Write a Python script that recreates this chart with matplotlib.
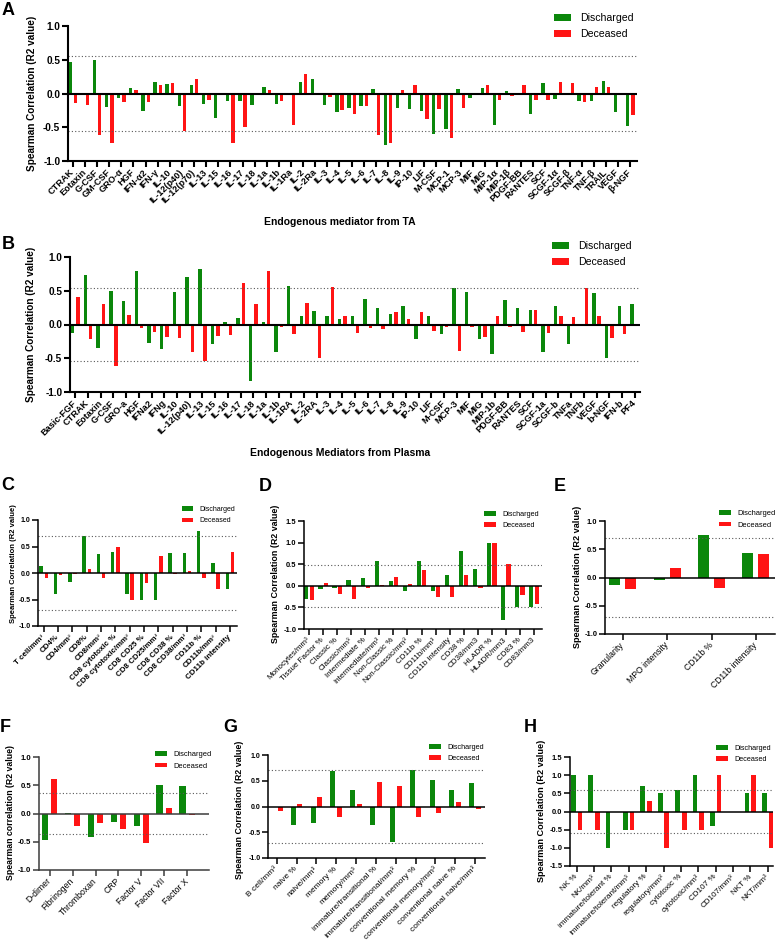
import numpy as np
import matplotlib
matplotlib.use("Agg")
import matplotlib.pyplot as plt

plt.rcParams['font.family'] = ['Liberation Sans', 'DejaVu Sans']

GREEN = '#0b870b'
RED = '#ff1414'
W, H = 777, 944

# ---- A: endogenous mediators from TA
ta_labels = ['CTRAK', 'Eotaxin', 'G-CSF', 'GM-CSF', 'GRO-α', 'HGF', 'IFN-α2', 'IFN-γ', 'IL-10',
             'IL-12(p40)', 'IL-12(p70)', 'IL-13', 'IL-15', 'IL-16', 'IL-17', 'IL-18', 'IL-1a', 'IL-1b',
             'IL-1Ra', 'IL-2', 'IL-2Ra', 'IL-3', 'IL-4', 'IL-5', 'IL-6', 'IL-7', 'IL-8', 'IL-9', 'IP-10',
             'LIF', 'M-CSF', 'MCP-1', 'MCP-3', 'MIF', 'MIG', 'MIP-1α', 'MIP-1β', 'PDGF-BB', 'RANTES',
             'SCF', 'SCGF-1α', 'SCGF-β', 'TNF-α', 'TNF-β', 'TRAIL', 'VEGF', 'β-NGF']
ta_discharged = [0.465, 0.01, 0.50, -0.20, -0.065, 0.075, -0.26, 0.17, 0.14, -0.19, 0.12, -0.15, -0.36,
                 -0.11, -0.11, -0.17, 0.10, -0.16, 0.0, 0.17, 0.21, -0.17, -0.27, -0.21, -0.18, 0.06,
                 -0.77, -0.22, -0.23, -0.26, -0.60, -0.53, 0.065, -0.065, 0.075, -0.47, 0.03, -0.015,
                 -0.31, 0.15, -0.08, -0.02, -0.11, -0.11, 0.19, -0.27, -0.48]
ta_deceased = [-0.14, -0.17, -0.62, -0.73, -0.12, 0.05, -0.13, 0.12, 0.16, -0.56, 0.21, -0.10, -0.01,
               -0.74, -0.50, -0.02, 0.05, -0.11, -0.46, 0.29, 0.0, -0.05, -0.24, -0.30, -0.18, -0.62,
               -0.73, 0.05, 0.13, -0.38, -0.23, -0.66, -0.22, -0.02, 0.13, -0.09, -0.03, 0.12, -0.09,
               -0.09, 0.17, 0.16, -0.13, 0.09, 0.10, -0.02, -0.32]

# ---- B: endogenous mediators from plasma
pl_labels = ['Basic-FGF', 'CTRAK', 'Eotaxin', 'G-CSF', 'GRO-a', 'HGF', 'IFNa2', 'IFNg', 'IL-10',
             'IL-12(p40)', 'IL-13', 'IL-15', 'IL-16', 'IL-17', 'IL-18', 'IL-1a', 'IL-1b', 'IL-1RA',
             'IL-2', 'IL-2RA', 'IL-3', 'IL-4', 'IL-5', 'IL-6', 'IL-7', 'IL-8', 'IL-9', 'IP-10', 'LIF',
             'M-CSF', 'MCP-3', 'MIF', 'MIG', 'MIP-1b', 'PDGF-BB', 'RANTES', 'SCF', 'SCGF-1a',
             'SCGF-b', 'TNFa', 'TNFb', 'VEGF', 'b-NGF', 'IFN-b', 'PF4']
pl_discharged = [-0.12, 0.74, -0.35, 0.50, 0.35, 0.79, -0.28, -0.36, 0.48, 0.71, 0.82, -0.29, 0.035,
                 0.09, -0.83, 0.03, -0.40, 0.565, 0.13, 0.20, 0.13, 0.075, 0.13, 0.38, 0.25, 0.16,
                 0.28, -0.21, 0.13, -0.14, 0.545, 0.48, -0.22, -0.43, 0.37, 0.25, 0.22, -0.40, 0.27,
                 -0.29, 0.01, 0.46, -0.49, 0.28, 0.30]
pl_deceased = [0.41, -0.22, 0.30, -0.62, 0.14, -0.05, -0.11, -0.19, -0.20, -0.40, -0.54, -0.17, -0.15,
               0.62, 0.31, 0.80, -0.04, -0.14, 0.32, -0.49, 0.56, 0.12, -0.12, -0.045, -0.07, 0.18,
               0.075, 0.18, -0.09, -0.04, -0.39, -0.04, -0.18, 0.13, -0.03, -0.11, 0.21, -0.13, 0.13,
               0.11, 0.54, 0.13, -0.20, -0.14, -0.01]

# ---- C: T cells
tc_labels = ['T cell/mm³', 'CD4%', 'CD4/mm³', 'CD8%', 'CD8/mm³', 'CD8 cytotoxic %',
             'CD8 cytotoxic/mm³', 'CD8 CD25 %', 'CD8 CD25/mm³', 'CD8 CD38 %', 'CD8 CD38/mm³',
             'CD11b %', 'CD11b/mm³', 'CD11b intensity']
tc_discharged = [0.14, -0.40, -0.17, 0.70, 0.36, 0.40, -0.40, -0.50, -0.50, 0.37, 0.37, 0.79, 0.19, -0.30]
tc_deceased = [-0.10, -0.03, -0.025, 0.07, -0.10, 0.49, -0.50, -0.18, 0.32, -0.025, 0.04, -0.10, -0.30, 0.40]

# ---- D: monocytes
mo_labels = ['Monocytes/mm³', 'Tissue Factor %', 'Classic %', 'Classic/mm³', 'Intermediate %',
             'Intermediate/mm³', 'Non-Classic %', 'Non-Classic/mm³', 'CD11b %', 'CD11b/mm³',
             'CD11b intensity', 'CD38 %', 'CD38/mm3', 'HLADR %', 'HLADR/mm3', 'CD83 %', 'CD83/mm3']
mo_discharged = [-0.30, -0.08, -0.04, 0.14, 0.19, 0.57, 0.11, -0.13, 0.58, -0.11, 0.25, 0.80, 0.40,
                 1.0, -0.80, -0.50, -0.50]
mo_deceased = [-0.33, 0.07, -0.18, -0.30, -0.06, 0.03, 0.20, 0.04, 0.36, -0.27, -0.25, 0.25, -0.04,
               1.0, 0.50, -0.21, -0.42]

# ---- E: neutrophils
ne_labels = ['Granularity', 'MPO intensity', 'CD11b %', 'CD11b intensity']
ne_discharged = [-0.14, -0.05, 0.745, 0.43]
ne_deceased = [-0.21, 0.17, -0.18, 0.41]

# ---- F: coagulation
co_labels = ['D-dimer', 'Fibrinogen', 'Thromboxan', 'CRP', 'Factor V', 'Factor VII', 'Factor X']
co_discharged = [-0.47, 0.01, -0.42, -0.15, -0.22, 0.50, 0.49]
co_deceased = [0.61, -0.23, -0.16, -0.27, -0.52, 0.10, -0.03]

# ---- G: B cells
bc_labels = ['B cell/mm³', 'naive %', 'naive/mm³', 'memory %', 'memory/mm³',
             'immature/transitional %', 'immature/transitional/mm³', 'conventional memory %',
             'conventional memory/mm³', 'conventional naive %', 'conventional naive/mm³']
bc_discharged = [0.0, -0.36, -0.32, 0.68, 0.32, -0.36, -0.68, 0.71, 0.52, 0.33, 0.45]
bc_deceased = [-0.08, 0.05, 0.18, -0.21, 0.05, 0.47, 0.39, -0.21, -0.12, 0.085, -0.04]

# ---- H: NK cells
nk_labels = ['NK %', 'NK/mm³', 'immature/tolerant %', 'immature/tolerant/mm³', 'regulatory %',
             'regulatory/mm³', 'cytotoxic %', 'cytotoxic/mm³', 'CD107 %', 'CD107/mm³', 'NKT %', 'NKT/mm³']
nk_discharged = [1.0, 1.0, -1.0, -0.5, 0.7, 0.5, 0.6, 1.0, -0.4, 0.0, 0.5, 0.5]
nk_deceased = [-0.5, -0.5, 0.0, -0.5, 0.3, -1.0, -0.5, -0.5, 1.0, 0.0, 1.0, -1.0]


def px_axes(fig, left, top, right, bottom):
    return fig.add_axes([left / W, 1 - bottom / H, (right - left) / W, (bottom - top) / H])


def draw_panel(fig, box, labels, disch, dec, ylim, ystep, thr, pads, width, off,
               lw, fs_x, fs_y, bold_x, color='black'):
    ax = px_axes(fig, *box)
    x = np.arange(len(labels))
    ax.bar(x - off, disch, width, color=GREEN, label='Discharged')
    ax.bar(x + off, dec, width, color=RED, label='Deceased')
    ax.axhline(0, color=color, lw=lw, zorder=3)
    for t in (thr, -thr):
        ax.axhline(t, color='0.35', lw=0.8, ls=(0, (1, 2)), zorder=1)
    ax.set_xlim(-pads[0], len(labels) - 1 + pads[1])
    ax.set_ylim(*ylim)
    yt = np.arange(ylim[0], ylim[1] + 0.01, ystep)
    ax.set_yticks(yt)
    ax.set_yticklabels(['%.1f' % v for v in yt], fontsize=fs_y, fontweight='bold')
    ax.set_xticks(x)
    ax.set_xticklabels(labels, rotation=45, ha='right', va='center', rotation_mode='anchor',
                       fontsize=fs_x, fontweight='bold' if bold_x else 'normal')
    for s in ('top', 'right'):
        ax.spines[s].set_visible(False)
    for s in ('left', 'bottom'):
        ax.spines[s].set_linewidth(lw)
        ax.spines[s].set_color(color)
    ax.tick_params(axis='both', direction='out', width=lw, length=4, color=color, pad=1.5)
    ax.tick_params(axis='x', pad=3)
    return ax


def add_legend(ax, fig, px, py, fs):
    ax.legend(loc='upper left', bbox_to_anchor=(px / W, 1 - py / H), bbox_transform=fig.transFigure,
              frameon=False, fontsize=fs, borderpad=0, borderaxespad=0, handlelength=1.6,
              handleheight=0.6, handletextpad=0.9, labelspacing=0.6)


def ylabel(fig, px, py, text, fs):
    fig.text(px / W, 1 - py / H, text, rotation=90, ha='center', va='center',
             fontsize=fs, fontweight='bold')


def letter(fig, px, py, text):
    fig.text(px / W, 1 - py / H, text, ha='left', va='top', fontsize=13, fontweight='bold')


fig = plt.figure(figsize=(W / 100, H / 100), dpi=100)

# A
ax = draw_panel(fig, (68, 26, 637, 161), ta_labels, ta_discharged, ta_deceased, (-1, 1), 0.5, 0.56,
                (0.4, 0.55), 0.28, 0.22, 1.5, 6.6, 7.2, True)
add_legend(ax, fig, 554, 13, 7.6)
ylabel(fig, 32, 93, 'Spearman Correlation (R2 value)', 7.2)
fig.text(340 / W, 1 - 222 / H, 'Endogenous mediator from TA', ha='center', va='center',
         fontsize=7.5, fontweight='bold')
letter(fig, 2, 2, 'A')

# B
ax = draw_panel(fig, (70, 257, 640, 392), pl_labels, pl_discharged, pl_deceased, (-1, 1), 0.5, 0.54,
                (0.42, 0.42), 0.27, 0.21, 1.5, 6.6, 7.2, True)
add_legend(ax, fig, 552, 241, 7.6)
ylabel(fig, 31, 324, 'Spearman Correlation (R2 value)', 7.2)
fig.text(340 / W, 1 - 453 / H, 'Endogenous Mediators from Plasma', ha='center', va='center',
         fontsize=7.5, fontweight='bold')
letter(fig, 2, 236, 'B')

# C
ax = draw_panel(fig, (38, 520, 237, 626), tc_labels, tc_discharged, tc_deceased, (-1, 1), 0.5, 0.70,
                (0.4, 0.5), 0.24, 0.18, 1.1, 5.7, 5.0, True)
add_legend(ax, fig, 182, 506, 5.0)
ylabel(fig, 14, 564, 'Spearman Correlation (R2 value)', 5.5)
letter(fig, 1, 477, 'C')

# D
ax = draw_panel(fig, (304, 521, 542, 629), mo_labels, mo_discharged, mo_deceased, (-1, 1.5), 0.5, 0.49,
                (0.36, 0.57), 0.30, 0.19, 1.1, 5.8, 5.4, False)
add_legend(ax, fig, 484, 511, 5.2)
ylabel(fig, 276, 574, 'Spearman Correlation (R2 value)', 6.4)
letter(fig, 259, 478, 'D')

# E
ax = draw_panel(fig, (605, 521, 775, 634), ne_labels, ne_discharged, ne_deceased, (-1, 1), 0.5, 0.70,
                (0.4, 0.43), 0.25, 0.18, 1.1, 6.2, 5.4, False)
add_legend(ax, fig, 719, 510, 5.4)
ylabel(fig, 577, 577, 'Spearman Correlation (R2 value)', 6.6)
letter(fig, 554, 478, 'E')

# F
ax = draw_panel(fig, (39, 757, 209, 870), co_labels, co_discharged, co_deceased, (-1, 1), 0.5, 0.37,
                (0.47, 0.96), 0.27, 0.2, 1.1, 6.2, 5.6, False, color='#3c3c3c')
add_legend(ax, fig, 155, 751, 5.4)
ylabel(fig, 11, 812, 'Spearman correlation (R2 value)', 6.3)
letter(fig, 0, 719, 'F')

# G
ax = draw_panel(fig, (268, 755, 485, 858), bc_labels, bc_discharged, bc_deceased, (-1, 1), 0.5, 0.70,
                (0.44, 0.5), 0.25, 0.17, 1.1, 6.0, 5.0, False)
add_legend(ax, fig, 429, 744, 5.2)
ylabel(fig, 240, 810, 'Spearman Correlation (R2 value)', 6.4)
letter(fig, 223, 719, 'G')

# H
ax = draw_panel(fig, (570, 757, 773, 866), nk_labels, nk_discharged, nk_deceased, (-1.5, 1.5), 0.5, 0.60,
                (0.38, 0.3), 0.27, 0.19, 1.1, 5.9, 5.4, False)
add_legend(ax, fig, 716, 745, 5.2)
ylabel(fig, 541, 811, 'Spearman Correlation (R2 value)', 6.6)
letter(fig, 524, 719, 'H')

fig.savefig('out.png', dpi=100)
